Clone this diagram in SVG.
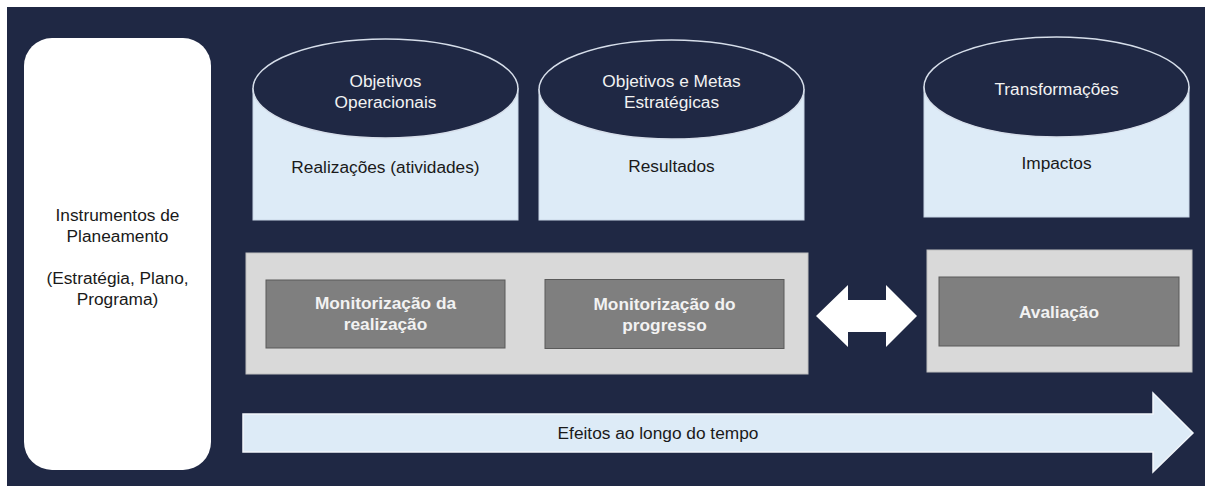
<svg xmlns="http://www.w3.org/2000/svg" width="1205" height="486" viewBox="0 0 1205 486">
<style>
text{font-family:"Liberation Sans",Arial,sans-serif;font-size:17.3px;text-anchor:middle}
.lt{fill:#F2F2F2}
.dk{fill:#1a1a1a}
.bd{font-weight:bold;fill:#F2F2F2}
.body{fill:#DDEBF7;stroke:#C9D6E6;stroke-width:1}
.top{fill:#1F2844;stroke:#D6DEEA;stroke-width:1.5}
.outer{fill:#D9D9D9;stroke:#BFBFBF;stroke-width:1}
.inner{fill:#7F7F7F;stroke:#5A5A5A;stroke-width:1}
</style>
<rect x="0" y="0" width="1205" height="486" fill="#FFFFFF"/>
<rect x="7" y="7" width="1198" height="479" fill="#1F2844"/>
<g id="instrumentos">
<rect x="24" y="38" width="187" height="432" rx="28" ry="28" fill="#FFFFFF"/>
<text class="dk" x="117.5" y="221">Instrumentos de</text>
<text class="dk" x="117.5" y="241.5">Planeamento</text>
<text class="dk" x="117.5" y="284">(Estratégia, Plano,</text>
<text class="dk" x="117.5" y="304.5">Programa)</text>
</g>
<g id="cyl-operacionais">
<rect class="body" x="253" y="88.5" width="265" height="131.5"/>
<ellipse class="top" cx="385.5" cy="88.5" rx="132.5" ry="49.5"/>
<text class="lt" x="385.5" y="87">Objetivos</text>
<text class="lt" x="385.5" y="108">Operacionais</text>
<text class="dk" x="385.5" y="172.5">Realizações (atividades)</text>
</g>
<g id="cyl-estrategicas">
<rect class="body" x="539" y="89.5" width="265" height="130.5"/>
<ellipse class="top" cx="671.5" cy="89.5" rx="132.5" ry="49.5"/>
<text class="lt" x="671.5" y="86.5">Objetivos e Metas</text>
<text class="lt" x="671.5" y="107.5">Estratégicas</text>
<text class="dk" x="671.5" y="172">Resultados</text>
</g>
<g id="cyl-transformacoes">
<rect class="body" x="924" y="87" width="265" height="130"/>
<ellipse class="top" cx="1056.5" cy="87" rx="132.5" ry="50"/>
<text class="lt" x="1056.5" y="94.5">Transformações</text>
<text class="dk" x="1056.5" y="169">Impactos</text>
</g>
<g id="monitorizacao">
<rect class="outer" x="246" y="253" width="562" height="121"/>
<g id="mon-realizacao">
<rect class="inner" x="266" y="280" width="239" height="68"/>
<text class="bd" x="385.5" y="309">Monitorização da</text>
<text class="bd" x="385.5" y="330">realização</text>
</g>
<g id="mon-progresso">
<rect class="inner" x="545" y="279.5" width="239" height="69"/>
<text class="bd" x="664.5" y="309.5">Monitorização do</text>
<text class="bd" x="664.5" y="330.5">progresso</text>
</g>
</g>
<g id="avaliacao">
<rect class="outer" x="927" y="250" width="265" height="122"/>
<rect class="inner" x="939" y="277" width="240" height="69"/>
<text class="bd" x="1059" y="318">Avaliação</text>
</g>
<g id="connectors">
<polygon points="816,316 848,285 848,300 886,300 886,285 917,316 886,347 886,332 848,332 848,347" fill="#FFFFFF"/>
<polygon id="efeitos" points="243,414 1153,414 1153,393 1193,433 1153,472 1153,452 243,452" fill="#DDEBF7" stroke="#F2F6FB" stroke-width="1.5"/>
<text class="dk" x="658" y="439">Efeitos ao longo do tempo</text>
</g>
</svg>
